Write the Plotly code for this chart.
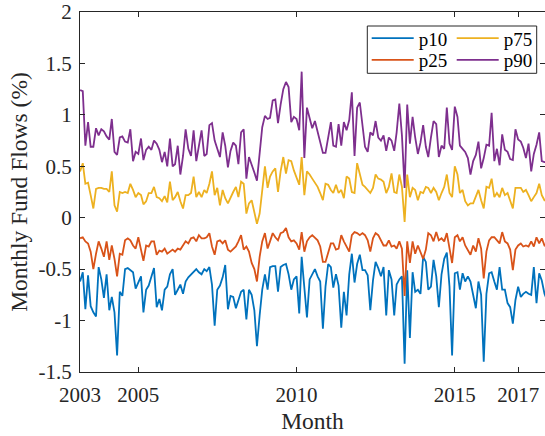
import pandas as pd
import plotly.graph_objects as go

# ---- data -------------------------------------------------------------
months = pd.date_range("2003-03-01", periods=178, freq="MS")

p10 = [-0.62, -0.53, -0.89, -0.56, -0.86, -0.92, -0.96, -0.48, -0.60, -0.78,
       -0.55, -0.90, -0.77, -0.92, -1.34, -0.72, -0.76, -0.50, -0.49, -0.51, -0.53, -0.69,
       -0.63, -0.57, -0.92, -0.70, -0.66, -0.58, -0.49, -0.87, -0.79, -0.90, -0.70, -0.67,
       -0.55, -0.50, -0.75, -0.70, -0.65, -0.74, -0.62, -0.58, -0.55, -0.52, -0.50, -0.53,
       -0.55, -0.50, -0.52, -0.48, -0.65, -1.05, -0.70, -0.66, -0.58, -0.46, -0.89, -0.76,
       -0.77, -0.88, -0.80, -0.72, -0.70, -0.99, -0.70, -0.75, -0.90, -1.25, -0.95, -0.70,
       -0.55, -0.70, -0.48, -0.47, -0.47, -0.72, -0.48, -0.46, -0.45, -0.55, -0.70, -0.60,
       -0.57, -0.93, -0.38, -0.65, -0.97, -0.60, -0.55, -0.50, -0.57, -0.62, -1.08, -0.67,
       -0.45, -0.48, -0.68, -0.55, -0.66, -1.07, -0.72, -0.95, -0.55, -0.35, -0.63, -0.45,
       -0.36, -0.51, -0.51, -0.56, -0.90, -0.61, -0.43, -0.49, -0.57, -0.48, -0.95, -0.51,
       -0.60, -0.95, -0.65, -0.60, -0.57, -1.42, -0.51, -1.17, -0.53, -0.72, -0.70, -0.74,
       -0.38, -0.43, -0.70, -0.67, -0.41, -0.57, -0.87, -0.55, -0.40, -0.34, -0.67, -1.34,
       -0.54, -0.53, -0.70, -0.54, -0.62, -0.57, -0.62, -0.74, -0.88, -0.62, -0.75, -1.40,
       -0.74, -0.54, -0.53, -0.62, -0.70, -0.48, -0.70, -0.70, -0.83, -0.87, -1.03, -0.80,
       -0.67, -0.77, -0.74, -0.72, -0.74, -0.75, -0.48, -0.83, -0.54, -0.61, -0.74, -0.80]

p25 = [-0.20, -0.19, -0.23, -0.25, -0.33, -0.50, -0.35, -0.23, -0.30, -0.38,
       -0.23, -0.41, -0.27, -0.40, -0.57, -0.35, -0.36, -0.22, -0.20, -0.22, -0.27, -0.30,
       -0.19, -0.30, -0.42, -0.27, -0.28, -0.23, -0.23, -0.36, -0.32, -0.33, -0.30, -0.35,
       -0.33, -0.31, -0.33, -0.30, -0.31, -0.27, -0.23, -0.25, -0.20, -0.19, -0.23, -0.17,
       -0.20, -0.20, -0.19, -0.15, -0.28, -0.36, -0.23, -0.22, -0.25, -0.22, -0.31, -0.33,
       -0.30, -0.28, -0.23, -0.17, -0.31, -0.28, -0.33, -0.44, -0.50, -0.62, -0.38, -0.23,
       -0.15, -0.30, -0.23, -0.15, -0.19, -0.22, -0.15, -0.14, -0.10, -0.19, -0.23, -0.22,
       -0.25, -0.31, -0.14, -0.33, -0.23, -0.19, -0.17, -0.20, -0.22, -0.28, -0.43, -0.43,
       -0.33, -0.25, -0.25, -0.31, -0.30, -0.17, -0.23, -0.28, -0.33, -0.17, -0.14, -0.15,
       -0.17, -0.15, -0.17, -0.22, -0.33, -0.20, -0.15, -0.17, -0.22, -0.27, -0.27, -0.22,
       -0.28, -0.27, -0.30, -0.23, -0.30, -0.76, -0.23, -0.44, -0.23, -0.35, -0.27, -0.33,
       -0.40, -0.31, -0.15, -0.17, -0.23, -0.14, -0.22, -0.20, -0.23, -0.15, -0.30, -0.44,
       -0.19, -0.17, -0.23, -0.19, -0.27, -0.31, -0.36, -0.27, -0.33, -0.20, -0.30, -0.59,
       -0.33, -0.22, -0.19, -0.19, -0.22, -0.25, -0.14, -0.23, -0.25, -0.31, -0.51, -0.31,
       -0.27, -0.25, -0.28, -0.27, -0.28, -0.23, -0.28, -0.19, -0.25, -0.20, -0.27, -0.28]

p75 = [0.45, 0.53, 0.33, 0.34, 0.22, 0.09, 0.28, 0.29, 0.29, 0.28,
       0.28, 0.25, 0.45, 0.12, 0.06, 0.25, 0.24, 0.25, 0.24, 0.33, 0.27, 0.20,
       0.24, 0.22, 0.13, 0.16, 0.24, 0.24, 0.30, 0.20, 0.19, 0.16, 0.21, 0.15,
       0.35, 0.17, 0.20, 0.25, 0.16, 0.09, 0.22, 0.22, 0.24, 0.40, 0.20, 0.25,
       0.20, 0.27, 0.24, 0.33, 0.45, 0.22, 0.29, 0.12, 0.27, 0.19, 0.14, 0.20,
       0.25, 0.30, 0.20, 0.35, 0.33, 0.04, 0.14, 0.17, 0.05, -0.06, 0.04, 0.24,
       0.50, 0.29, 0.40, 0.45, 0.48, 0.25, 0.45, 0.59, 0.43, 0.56, 0.55, 0.46,
       0.38, 0.32, 0.59, 0.22, 0.45, 0.42, 0.38, 0.34, 0.30, 0.24, 0.17, 0.33,
       0.32, 0.27, 0.24, 0.32, 0.24, 0.27, 0.19, 0.40, 0.38, 0.25, 0.24, 0.53,
       0.42, 0.32, 0.30, 0.27, 0.24, 0.29, 0.42, 0.38, 0.37, 0.35, 0.24, 0.30,
       0.43, 0.25, 0.24, 0.42, 0.30, -0.04, 0.42, 0.20, 0.29, 0.27, 0.17, 0.25,
       0.24, 0.30, 0.29, 0.24, 0.29, 0.25, 0.17, 0.24, 0.30, 0.42, 0.24, 0.20,
       0.50, 0.42, 0.24, 0.27, 0.16, 0.12, 0.14, 0.14, 0.20, 0.27, 0.17, 0.09,
       0.30, 0.29, 0.38, 0.20, 0.24, 0.20, 0.29, 0.22, 0.24, 0.17, 0.09, 0.29,
       0.29, 0.29, 0.25, 0.27, 0.22, 0.16, 0.20, 0.24, 0.33, 0.22, 0.17, 0.17]

p90 = [1.24, 1.23, 0.70, 0.93, 0.69, 0.69, 0.87, 0.80, 0.86, 0.84,
       0.79, 0.76, 0.96, 0.64, 0.61, 0.78, 0.79, 0.74, 0.73, 0.86, 0.55, 0.64,
       0.62, 0.77, 0.56, 0.66, 0.69, 0.66, 0.75, 0.72, 0.66, 0.54, 0.64, 0.50,
       0.77, 0.50, 0.52, 0.70, 0.42, 0.60, 0.86, 0.67, 0.60, 0.85, 0.55, 0.70,
       0.85, 0.60, 0.62, 0.90, 0.92, 0.75, 0.68, 0.59, 0.83, 0.70, 0.49, 0.65,
       0.73, 0.70, 0.52, 0.83, 0.86, 0.38, 0.59, 0.52, 0.44, 0.36, 0.62, 0.88,
       0.99, 0.96, 0.97, 1.14, 1.15, 0.92, 1.10, 1.25, 1.32, 1.27, 0.93, 0.98,
       0.96, 0.85, 1.42, 0.58, 1.07, 0.98, 0.87, 0.94, 0.83, 0.72, 0.63, 0.63,
       0.78, 0.93, 0.70, 0.69, 0.91, 0.70, 0.93, 0.85, 0.95, 1.22, 0.60, 1.07,
       1.12, 0.88, 0.69, 0.64, 0.83, 0.80, 0.94, 0.78, 0.75, 0.80, 0.65, 0.78,
       0.75, 0.65, 0.83, 1.11, 0.80, 0.29, 1.10, 0.72, 0.98, 0.78, 0.62, 0.73,
       0.90, 0.69, 0.59, 0.78, 0.94, 0.91, 0.59, 0.70, 0.67, 1.07, 0.72, 0.66,
       1.08, 0.98, 0.70, 0.67, 0.64, 0.58, 0.42, 0.55, 0.61, 0.74, 0.48, 0.58,
       0.71, 0.70, 1.02, 0.55, 0.67, 0.51, 0.81, 0.66, 0.64, 0.57, 0.56, 0.86,
       0.76, 0.74, 0.68, 0.58, 0.72, 0.45, 0.62, 0.71, 0.83, 0.55, 0.54, 0.54]

series_names = ["p10", "p25", "p75", "p90"]
series_values = [p10, p25, p75, p90]

ytick_vals = [-1.5, -1, -0.5, 0, 0.5, 1, 1.5, 2]
ytick_text = ["-1.5", "-1", "-0.5", "0", "0.5", "1", "1.5", "2"]
xtick_dates = ["2003-03-01", "2005-01-01", "2010-01-01", "2015-01-01", "2017-01-01"]
xtick_text = ["2003", "2005", "2010", "2015", "2017"]

# ---- style ------------------------------------------------------------
colors = {"p10": "#0072BD", "p25": "#D95319", "p75": "#EDB120", "p90": "#7E2F8E"}
legend_ids = {"p10": "legend", "p75": "legend2", "p25": "legend3", "p90": "legend4"}
FONT = "Liberation Serif, Times New Roman, serif"
AX = "#262626"

W, H = 545, 436
ML, MR, MT, MB = 80, 0, 12, 64
PW, PH = W - ML - MR, H - MT - MB


def px_x(x):
    return (x - ML) / PW


def px_y(y):
    return (H - MB - y) / PH


fig = go.Figure()
for name, vals in zip(series_names, series_values):
    fig.add_trace(go.Scatter(
        x=months, y=vals, mode="lines", name=name,
        line=dict(color=colors[name], width=1.8),
        legend=legend_ids[name], showlegend=True,
    ))

leg_common = dict(
    font=dict(family=FONT, size=19, color="#000000"),
    bgcolor="rgba(0,0,0,0)", borderwidth=0, itemwidth=42,
    xanchor="left", yanchor="middle", orientation="v",
)
col1, col2 = px_x(366.7), px_x(451.7)
row1, row2 = px_y(38.3), px_y(60.0)

fig.update_layout(
    width=W, height=H,
    margin=dict(l=ML, r=MR, t=MT, b=MB, pad=0),
    paper_bgcolor="white", plot_bgcolor="white",
    font=dict(family=FONT, size=21, color=AX),
    legend=dict(x=col1, y=row1, **leg_common),
    legend2=dict(x=col2, y=row1, **leg_common),
    legend3=dict(x=col1, y=row2, **leg_common),
    legend4=dict(x=col2, y=row2, **leg_common),
    shapes=[dict(type="rect", xref="paper", yref="paper",
                 x0=px_x(367.3), x1=px_x(536.7), y0=px_y(73.3), y1=px_y(26.0),
                 line=dict(color=AX, width=1), fillcolor="rgba(255,255,255,0)",
                 layer="above")],
)

fig.update_xaxes(
    type="date", range=["2003-02-28", "2017-11-07"],
    tickmode="array", tickvals=xtick_dates, ticktext=xtick_text,
    ticks="inside", ticklen=5, tickcolor=AX, tickwidth=1,
    showline=True, linecolor=AX, linewidth=1, mirror="ticks",
    showgrid=False, zeroline=False,
    tickfont=dict(family=FONT, size=21, color=AX), ticklabelstandoff=4,
    title=dict(text="Month", font=dict(family=FONT, size=23.5, color=AX), standoff=6),
)
fig.update_yaxes(
    range=[-1.5, 2], tickmode="array", tickvals=ytick_vals, ticktext=ytick_text,
    ticks="inside", ticklen=5, tickcolor=AX, tickwidth=1,
    showline=True, linecolor=AX, linewidth=1, mirror="ticks",
    showgrid=False, zeroline=False,
    tickfont=dict(family=FONT, size=21, color=AX), ticklabelstandoff=3,
    title=dict(text="Monthly Fund Flows (%)", font=dict(family=FONT, size=23.5, color=AX), standoff=4),
)

fig.write_html("out.html")
